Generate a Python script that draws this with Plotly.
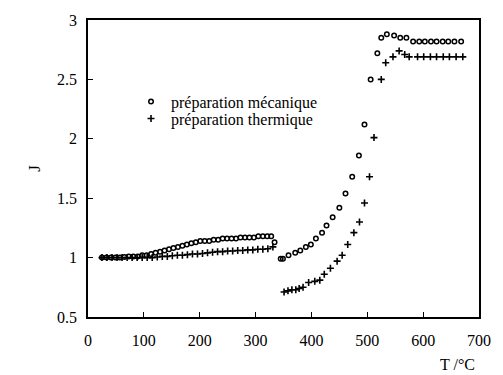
import plotly.graph_objects as go

# préparation mécanique (circles)
T_meca = [25, 33, 41, 49, 57, 65, 73, 81, 89, 97, 105, 113, 121, 129, 137, 145, 153, 161, 169, 177,
          185, 193, 201, 209, 217, 225, 233, 241, 249, 257, 265, 273, 281, 289, 297, 305, 313, 321, 328, 334,
          345, 349, 359, 371, 380, 390, 399, 408, 419, 427, 438, 450, 461, 473, 485, 495, 506, 518, 525,
          535, 548, 559, 570, 582, 593, 603, 614, 624, 635, 645, 656, 668]
J_meca = [1.00, 1.00, 1.00, 1.00, 1.00, 1.005, 1.01, 1.01, 1.01, 1.02, 1.02, 1.03, 1.04, 1.05, 1.06, 1.07, 1.08, 1.09, 1.10, 1.11,
          1.12, 1.13, 1.14, 1.14, 1.14, 1.15, 1.15, 1.16, 1.16, 1.16, 1.16, 1.17, 1.17, 1.17, 1.17, 1.18, 1.18, 1.18, 1.18, 1.13,
          0.99, 0.99, 1.02, 1.04, 1.06, 1.09, 1.11, 1.16, 1.21, 1.27, 1.34, 1.42, 1.54, 1.68, 1.86, 2.12, 2.50, 2.72, 2.85,
          2.88, 2.87, 2.85, 2.85, 2.82, 2.82, 2.82, 2.82, 2.82, 2.82, 2.82, 2.82, 2.82]

# préparation thermique (plus signs)
T_ther = [25, 34, 43, 52, 61, 70, 79, 88, 97, 106, 115, 124, 133, 142, 151, 160, 169, 178, 187, 196,
          205, 214, 223, 232, 241, 250, 259, 268, 277, 286, 295, 304, 313, 322, 331,
          351, 358, 365, 372, 378, 385, 395, 406, 415, 423, 434, 446, 455, 465, 476, 486, 495, 504, 512,
          525, 533, 546, 557, 567, 575, 590, 601, 613, 624, 636, 647, 659, 671]
J_ther = [1.00, 1.00, 1.00, 1.00, 1.00, 1.00, 1.00, 1.00, 1.00, 1.00, 1.00, 1.005, 1.01, 1.01, 1.015, 1.02, 1.02, 1.025, 1.03, 1.03,
          1.035, 1.04, 1.045, 1.05, 1.05, 1.055, 1.055, 1.06, 1.06, 1.065, 1.065, 1.07, 1.07, 1.075, 1.09,
          0.71, 0.72, 0.73, 0.73, 0.74, 0.75, 0.79, 0.80, 0.81, 0.86, 0.91, 0.97, 1.02, 1.11, 1.21, 1.30, 1.46, 1.68, 2.01,
          2.50, 2.64, 2.69, 2.74, 2.71, 2.69, 2.69, 2.69, 2.69, 2.69, 2.69, 2.69, 2.69, 2.69]

x_ticks = [0, 100, 200, 300, 400, 500, 600, 700]
y_ticks = [0.5, 1, 1.5, 2, 2.5, 3]
y_labels = ["0.5", "1", "1.5", "2", "2.5", "3"]

FONT = "Times New Roman, Liberation Serif, serif"
FS = 16

fig = go.Figure()
fig.add_trace(go.Scatter(
    x=T_meca, y=J_meca, mode="markers", name="préparation mécanique", legend="legend",
    marker=dict(symbol="circle-open", size=4.5, color="black", line=dict(width=1.5, color="black")),
))
fig.add_trace(go.Scatter(
    x=T_ther, y=J_ther, mode="markers", name="préparation thermique", legend="legend2",
    marker=dict(symbol="cross-thin-open", size=5, color="black", line=dict(width=1.6, color="black")),
))

leg_common = dict(xanchor="left", yanchor="middle", bgcolor="rgba(0,0,0,0)",
                  font=dict(family=FONT, size=FS), itemsizing="trace", borderwidth=0)

fig.update_layout(
    width=503, height=375,
    margin=dict(l=88, r=15, t=16, b=58),
    paper_bgcolor="white", plot_bgcolor="white",
    font=dict(family=FONT, size=FS, color="black"),
    showlegend=True,
    legend=dict(x=0.11, y=0.725, **leg_common),
    legend2=dict(x=0.11, y=0.668, **leg_common),
    xaxis=dict(range=[0, 700], tickmode="array", tickvals=x_ticks,
               ticks="inside", ticklen=5, tickwidth=1, tickcolor="black",
               showline=True, linecolor="black", linewidth=1.5, mirror=True,
               showgrid=False, zeroline=False, tickfont=dict(family=FONT, size=FS),
               ticklabelstandoff=8),
    yaxis=dict(range=[0.5, 3], tickmode="array", tickvals=y_ticks, ticktext=y_labels,
               ticks="inside", ticklen=5, tickwidth=1, tickcolor="black",
               showline=True, linecolor="black", linewidth=1.5, mirror=True,
               showgrid=False, zeroline=False, tickfont=dict(family=FONT, size=FS),
               ticklabelstandoff=6,
               title=dict(text="J", font=dict(family=FONT, size=17), standoff=12)),
    annotations=[dict(text="T /°C", xref="paper", yref="paper", x=0.945, y=-0.16,
                      xanchor="center", yanchor="middle", showarrow=False,
                      font=dict(family=FONT, size=FS))],
)

fig.write_html("out.html")
